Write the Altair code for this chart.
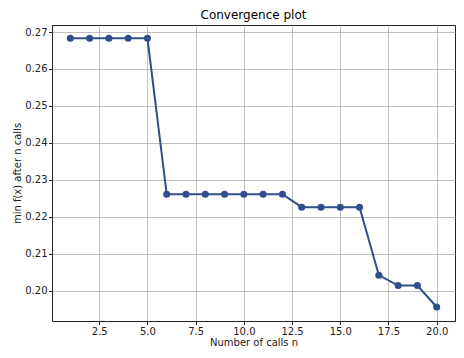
import altair as alt
import pandas as pd

calls = list(range(1, 21))
min_f = [0.2683, 0.2683, 0.2683, 0.2683, 0.2683,
         0.2261, 0.2261, 0.2261, 0.2261, 0.2261, 0.2261, 0.2261,
         0.2226, 0.2226, 0.2226, 0.2226,
         0.2042, 0.2014, 0.2014, 0.1956]
x_ticks = [2.5, 5.0, 7.5, 10.0, 12.5, 15.0, 17.5, 20.0]
y_ticks = [0.20, 0.21, 0.22, 0.23, 0.24, 0.25, 0.26, 0.27]

df = pd.DataFrame({"n": calls, "minf": min_f})
color = "#304d8c"

base = alt.Chart(df).encode(
    x=alt.X("n:Q",
            scale=alt.Scale(domain=[0.05, 20.95], nice=False, zero=False),
            axis=alt.Axis(values=x_ticks, format=".1f", title="Number of calls n")),
    y=alt.Y("minf:Q",
            scale=alt.Scale(domain=[0.1918, 0.2719], nice=False, zero=False),
            axis=alt.Axis(values=y_ticks, format=".2f", title="min f(x) after n calls")),
)

line = base.mark_line(color=color, strokeWidth=2)
pts = base.mark_circle(color=color, size=50, opacity=1)

chart = (line + pts).properties(
    width=403, height=296,
    title=alt.TitleParams("Convergence plot", fontSize=12, font="DejaVu Sans",
                          fontWeight="normal", color="#000", offset=3),
    autosize=alt.AutoSizeParams(type="none"),
    padding={"left": 44, "top": 17, "right": 1, "bottom": 29},
).configure_view(
    stroke="#222", strokeWidth=1
).configure_axis(
    labelFont="DejaVu Sans", titleFont="DejaVu Sans",
    labelFontSize=10, titleFontSize=10, titleFontWeight="normal",
    labelColor="#222", titleColor="#222",
    domainColor="#222", tickColor="#222", tickSize=3.5,
    gridColor="#b0b0b0", gridWidth=0.8, labelPadding=1.5,
).configure_axisX(titlePadding=1).configure_axisY(titlePadding=2)

chart.save("out.html", embed_options={"renderer": "svg", "actions": False})
